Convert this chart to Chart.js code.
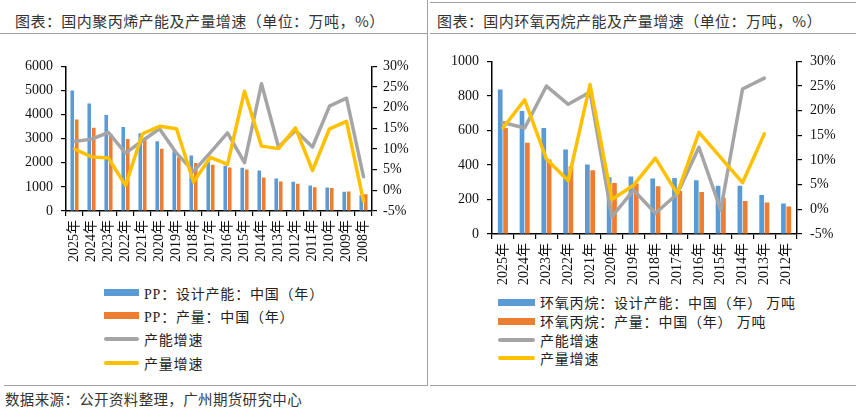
<!DOCTYPE html>
<html><head><meta charset="utf-8">
<script src="https://cdn.jsdelivr.net/npm/chart.js@4.4.1/dist/chart.umd.min.js"></script>
<style>
body{margin:0;width:861px;height:412px;background:#fff;position:relative;overflow:hidden;font-family:'Noto Sans CJK SC',sans-serif;}
.title{position:absolute;top:11px;font-size:15px;line-height:20px;color:#333;white-space:nowrap;letter-spacing:0.45px;}
.hline{position:absolute;height:0;border-top:1.5px solid #a0a0a0;}
.vline{position:absolute;width:0;border-left:1.5px solid #a0a0a0;}
.legend{position:absolute;font-family:'Liberation Serif','Noto Sans CJK SC',serif;font-size:14px;color:#222;letter-spacing:0.8px;}
.legend .row{display:flex;align-items:center;white-space:nowrap;}
.legend .sw{display:inline-block;margin-right:5px;}
.source{position:absolute;left:5px;top:389px;font-size:14.5px;line-height:20px;color:#333;white-space:nowrap;letter-spacing:0.35px;}
canvas{position:absolute;}
</style></head><body>
<div class="title" style="left:15px;">图表：国内聚丙烯产能及产量增速（单位：万吨，%）</div>
<div class="title" style="left:437px;">图表：国内环氧丙烷产能及产量增速（单位：万吨，%）</div>
<div class="hline" style="left:0;top:33px;width:427px;"></div>
<div class="hline" style="left:430px;top:2px;width:426px;"></div>
<div class="hline" style="left:430px;top:33px;width:426px;"></div>
<div class="vline" style="left:427px;top:0;height:386px;"></div>
<div class="hline" style="left:4px;top:385px;width:423px;"></div>
<div class="hline" style="left:430px;top:385px;width:426px;"></div>
<canvas id="c1" width="427" height="225" style="left:0;top:50px;"></canvas>
<canvas id="c2" width="427" height="245" style="left:430px;top:45px;"></canvas>
<div class="legend" id="lg1" style="left:104px;top:281px;"></div>
<div class="legend" id="lg2" style="left:498px;top:293px;"></div>
<div class="source">数据来源：公开资料整理，广州期货研究中心</div>
<script>
// ---- Data: polypropylene (PP) ----
const ppYears = ['2025年','2024年','2023年','2022年','2021年','2020年','2019年','2018年','2017年','2016年','2015年','2014年','2013年','2012年','2011年','2010年','2009年','2008年'];
const ppCapacity = [5000,4460,3980,3490,3230,2890,2500,2300,2030,1880,1790,1680,1350,1210,1060,975,800,650];
const ppOutput = [3800,3450,3190,2990,2950,2580,2230,1990,1920,1810,1720,1390,1220,1130,990,950,810,690];
const ppCapGrowth = [11.8,12.4,14.0,9.0,12.0,14.9,9.0,4.6,9.2,13.9,6.7,25.8,10.5,14.5,10.5,20.4,22.3,3.3];
const ppOutGrowth = [10.0,8.1,7.8,1.2,13.7,15.5,14.9,2.0,8.0,6.3,24.0,10.7,10.1,15.1,4.8,14.9,16.7,-2.6];
const ppLabels = ['PP：设计产能：中国（年）','PP：产量：中国（年）','产能增速','产量增速'];
const ppLeftTicks = {min:0,max:6000,step:1000};

// ---- Data: propylene oxide ----
const poYears = ['2025年','2024年','2023年','2022年','2021年','2020年','2019年','2018年','2017年','2016年','2015年','2014年','2013年','2012年'];
const poCapacity = [837,713,614,490,403,329,333,321,325,312,279,279,226,176];
const poOutput = [614,528,432,392,369,296,292,277,249,243,210,191,182,159];
const poCapGrowth = [17.6,16.5,25.0,21.3,23.8,-1.5,3.9,-0.8,3.1,12.6,-0.1,24.4,26.6,null];
const poOutGrowth = [16.5,22.2,10.2,5.8,25.3,2.0,4.9,10.4,3.2,15.6,10.5,5.4,15.3,null];
const poLabels = ['环氧丙烷：设计产能：中国（年） 万吨','环氧丙烷：产量：中国（年） 万吨','产能增速','产量增速'];
const poLeftTicks = {min:0,max:1000,step:200};

const rightTicks = {min:-5,max:30,step:5};
const colors = ['#5B9BD5','#ED7D31','#A5A5A5','#FFC000'];
const tickFont = {family:"'Liberation Serif','Noto Sans CJK SC',serif", size:14};

function build(id, years, cap, out, capG, outG, labels, leftT, opt){
  const ctx = document.getElementById(id);
  return new Chart(ctx, {
    data:{
      labels: years,
      datasets:[
        {type:'bar', label:labels[0], data:cap, backgroundColor:colors[0], yAxisID:'y', order:2,
         categoryPercentage:opt.cat, barPercentage:opt.bar},
        {type:'bar', label:labels[1], data:out, backgroundColor:colors[1], yAxisID:'y', order:2,
         categoryPercentage:opt.cat, barPercentage:opt.bar},
        {type:'line', label:labels[2], data:capG, borderColor:colors[2], backgroundColor:colors[2], borderWidth:opt.lw,
         pointRadius:0, yAxisID:'y1', order:1, tension:0, borderJoinStyle:'round', borderCapStyle:'round'},
        {type:'line', label:labels[3], data:outG, borderColor:colors[3], backgroundColor:colors[3], borderWidth:opt.lw,
         pointRadius:0, yAxisID:'y1', order:0, tension:0, borderJoinStyle:'round', borderCapStyle:'round'}
      ]
    },
    options:{
      responsive:false, animation:false, devicePixelRatio:1,
      layout:{padding:{top:opt.top,left:0,right:0,bottom:0}},
      plugins:{legend:{display:false}, tooltip:{enabled:false}},
      scales:{
        x:{offset:true,
           grid:{display:true,drawOnChartArea:false,drawTicks:true,tickLength:5,color:'#000',lineWidth:1.2,offset:true},
           border:{color:'#000',width:1.5},
           ticks:{minRotation:90,maxRotation:90,autoSkip:false,padding:4,color:'#111',font:tickFont},
           afterFit:s=>{s.height=opt.xh;}},
        y:{position:'left',min:leftT.min,max:leftT.max,
           grid:{drawOnChartArea:false,drawTicks:true,tickLength:5,color:'#000',lineWidth:1.2},
           border:{color:'#000',width:1.5},
           ticks:{stepSize:leftT.step,padding:opt.lp,color:'#111',font:tickFont,callback:v=>String(v)},
           afterFit:s=>{s.width=opt.lw0;}},
        y1:{position:'right',min:rightTicks.min,max:rightTicks.max,
           grid:{drawOnChartArea:false,drawTicks:true,tickLength:5,color:'#000',lineWidth:1.2},
           border:{color:'#000',width:1.5},
           ticks:{stepSize:rightTicks.step,padding:opt.rp,color:'#111',font:tickFont,callback:v=>v+'%'},
           afterFit:s=>{s.width=opt.rw;}}
      }
    }
  });
}

function legend(chart, el, rowH, swW){
  chart.data.datasets.forEach(ds=>{
    const row = document.createElement('div');
    row.className='row'; row.style.height=rowH+'px';
    const sw = document.createElement('span');
    sw.className='sw'; sw.style.width=swW+'px';
    if(ds.type==='bar'){ sw.style.height='7px'; sw.style.background=ds.backgroundColor; }
    else { sw.style.height='4px'; sw.style.background=ds.borderColor; sw.style.borderRadius='2px'; }
    const t = document.createElement('span'); t.textContent = ds.label;
    row.appendChild(sw); row.appendChild(t); el.appendChild(row);
  });
}

const c1 = build('c1', ppYears, ppCapacity, ppOutput, ppCapGrowth, ppOutGrowth, ppLabels, ppLeftTicks,
  {cat:0.53,bar:0.8,lw:3.5,top:15,xh:64,lw0:66,rw:55,lp:8,rp:6});
const c2 = build('c2', poYears, poCapacity, poOutput, poCapGrowth, poOutGrowth, poLabels, poLeftTicks,
  {cat:0.49,bar:0.88,lw:3.5,top:15,xh:56,lw0:62,rw:60,lp:8,rp:8});
legend(c1, document.getElementById('lg1'), 23.3, 35);
legend(c2, document.getElementById('lg2'), 18.7, 37);
</script>
</body></html>
